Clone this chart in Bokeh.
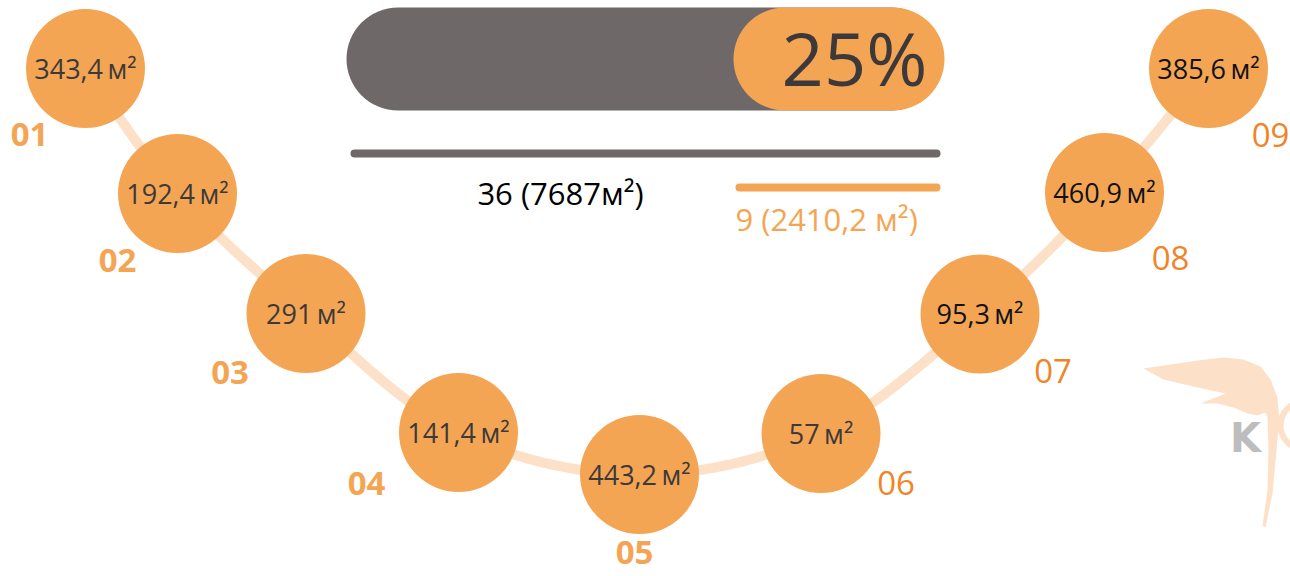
import numpy as np
from bokeh.plotting import figure
from bokeh.models import Range1d, ColumnDataSource
from bokeh.core.properties import value
from bokeh.embed import file_html
from bokeh.resources import INLINE

# ---------------- data ----------------
floor_labels = ["01", "02", "03", "04", "05", "06", "07", "08", "09"]
floor_areas = [343.4, 192.4, 291, 141.4, 443.2, 57, 95.3, 460.9, 385.6]
total_count = 36
total_area = 7687
sold_count = 9
sold_area = 2410.2
sold_percent = 25

# ---------------- layout (page pixels) ----------------
circle_x = [85, 177, 305.5, 458, 639, 820.5, 979.5, 1104, 1208]
circle_y = [68, 193, 313, 432, 474, 433, 313.5, 192, 68]
label_dx = [-56, -60, -76, -92, -5, 75, 73, 66, 62]
label_dy = [79, 80, 72, 64, 91, 62, 70, 78, 79]
R = 59.5

ORANGE = "#f4a554"
ORANGE_DARK = "#f08427"
PEACH = "#fce1c8"
GRAY = "#6e6869"
DARK = "#3d393a"
FONT = "Open Sans"
BASE_K = 0.38  # compensation between wanted baseline and bokeh text anchor


def fmt(v):
    return ("%g" % v).replace(".", ",")


def base(y, fs):
    return y - BASE_K * fs


def catmull(xs, ys, n=30):
    P = [(xs[0], ys[0])] + list(zip(xs, ys)) + [(xs[-1], ys[-1])]
    P = np.array(P, dtype=float)
    out = []
    for i in range(1, len(P) - 2):
        p0, p1, p2, p3 = P[i - 1], P[i], P[i + 1], P[i + 2]
        for t in np.linspace(0, 1, n, endpoint=False):
            t2, t3 = t * t, t * t * t
            pt = 0.5 * ((2 * p1) + (-p0 + p2) * t + (2 * p0 - 5 * p1 + 4 * p2 - p3) * t2
                        + (-p0 + 3 * p1 - 3 * p2 + p3) * t3)
            out.append(pt)
    out.append(P[-2])
    out = np.array(out)
    return out[:, 0], out[:, 1]


p = figure(width=1290, height=576, output_backend="svg", toolbar_location=None,
           x_range=Range1d(0, 1290), y_range=Range1d(576, 0),
           x_axis_location=None, y_axis_location=None, min_border=0)
p.grid.visible = False
p.outline_line_color = None
p.background_fill_color = "white"
p.border_fill_color = "white"

# ---- logo (decoration) ----
wing_x = [1143, 1163, 1197, 1223, 1243, 1260, 1270, 1277, 1279, 1277, 1276, 1272, 1265, 1262,
          1267, 1268, 1267, 1265, 1257, 1247, 1233, 1217, 1200, 1225, 1197, 1163]
wing_y = [368, 365, 360, 357, 359, 366, 379, 397, 420, 437, 450, 493, 527, 525,
          490, 450, 417, 412, 415, 413, 407, 403, 403, 393, 387, 379]
p.patch(wing_x, wing_y, fill_color=PEACH, line_color=None)
p.annulus(x=[1304], y=[425], inner_radius=21, outer_radius=27, fill_color=PEACH, line_color=None)
p.text(x=[1245], y=[base(453, 40)], text=["K"], text_font=value("DejaVu Sans"), text_font_style="bold",
       text_font_size="40px", text_color="#bdbdbd", text_align="center", text_baseline="alphabetic")

# ---- connecting curve ----
sx, sy = catmull(circle_x, circle_y)
p.line(sx, sy, line_width=10, line_color=PEACH)

# ---- circles ----
area_text = [fmt(v) + "\u2009м²" for v in floor_areas]
num_colors = [DARK] * 6 + ["#111111"] * 3
lab_colors = [ORANGE] * 5 + [ORANGE_DARK] * 4
lab_styles = ["bold"] * 5 + ["normal"] * 4
VAL_FS, LAB_FS = 27, 33
src = ColumnDataSource(dict(
    x=circle_x, y=circle_y, ty=[base(y + 10, VAL_FS) for y in circle_y], txt=area_text, tc=num_colors,
    lx=[x + dx for x, dx in zip(circle_x, label_dx)],
    ly=[base(y + dy, LAB_FS) for y, dy in zip(circle_y, label_dy)],
    lab=floor_labels, lc=lab_colors, ls=lab_styles))
p.circle(x="x", y="y", radius=R, source=src, fill_color=ORANGE, line_color=None)
p.text(x="x", y="ty", text="txt", source=src, text_color="tc", text_font=value(FONT),
       text_font_size="%dpx" % VAL_FS, text_align="center", text_baseline="alphabetic")
p.text(x="lx", y="ly", text="lab", source=src, text_color="lc", text_font=value(FONT),
       text_font_style="ls", text_font_size="%dpx" % LAB_FS, text_align="center", text_baseline="alphabetic")

# ---- progress bar ----
bar_h = 103
p.line([346 + bar_h / 2, 942 - bar_h / 2], [58.5, 58.5], line_width=bar_h, line_color=GRAY, line_cap="round")
p.line([733 + bar_h / 2, 944 - bar_h / 2], [58.5, 58.5], line_width=bar_h, line_color=ORANGE, line_cap="round")
p.text(x=[854], y=[base(85, 74)], text=["%d%%" % sold_percent], text_font=value(FONT), text_font_size="74px",
       text_color=DARK, text_align="center", text_baseline="alphabetic")

# ---- totals ----
TOT_FS = 31
p.line([354, 936], [153, 153], line_width=8, line_color=GRAY, line_cap="round")
p.line([739, 936], [187, 187], line_width=8, line_color=ORANGE, line_cap="round")
p.text(x=[560], y=[base(204, TOT_FS)], text=["%d (%dм²)" % (total_count, total_area)], text_font=value(FONT),
       text_font_size="%dpx" % TOT_FS, text_color="#000000", text_align="center", text_baseline="alphabetic")
p.text(x=[735], y=[base(230, TOT_FS)], text=["%d (%s м²)" % (sold_count, fmt(sold_area))], text_font=value(FONT),
       text_font_size="%dpx" % TOT_FS, text_color=ORANGE, text_align="left", text_baseline="alphabetic")

open("out.html", "w").write(file_html(p, INLINE))
